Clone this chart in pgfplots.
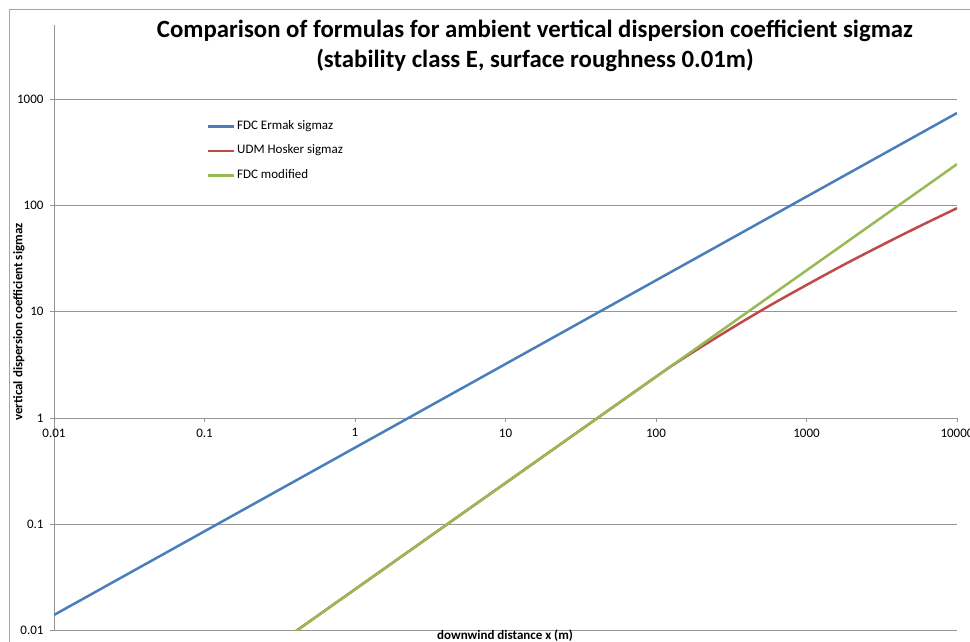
\documentclass[border=0pt]{standalone}
\usepackage{fontspec}
\setmainfont{Carlito}
\usepackage{pgfplots}
\pgfplotsset{compat=1.18}
\definecolor{xlblue}{RGB}{74,126,187}
\definecolor{xlred}{RGB}{190,75,72}
\definecolor{xlgreen}{RGB}{152,185,84}
\definecolor{gridc}{RGB}{150,150,150}
\definecolor{framec}{RGB}{165,165,165}
\begin{document}
\begin{tikzpicture}
\useasboundingbox (0pt,0pt) rectangle (970pt,641pt);
\clip (0pt,0pt) rectangle (970pt,641pt);
\draw[framec, line width=0.75pt] (9pt,-20pt) rectangle (1000pt,632pt);
\begin{axis}[
  at={(54pt,10.3pt)}, anchor=south west,
  scale only axis, width=903pt, height=605.7pt,
  xmode=log, ymode=log,
  xmin=0.01, xmax=10000, ymin=0.01, ymax=4990,
  axis x line=middle, axis y line=left,
  axis line style={-, gridc, line width=0.75pt},
  hide obscured x ticks=false, hide obscured y ticks=false,
  xtick={0.01,0.1,1,10,100,1000,10000},
  xticklabels={0.01,0.1,1,10,100,1000,10000},
  ytick={0.01,0.1,1,10,100,1000},
  yticklabels={0.01,0.1,1,10,100,1000},
  xminorticks=false, yminorticks=false,
  tick style={gridc, line width=0.75pt},
  major tick length=4pt, tick align=outside,
  ymajorgrids, major grid style={gridc, line width=0.75pt},
  tick label style={font=\fontsize{13}{15}\selectfont},
  xticklabel style={yshift=-3pt},
  yticklabel style={xshift=-3pt},
  legend style={at={(0.1694,0.792)}, anchor=west, draw=none, fill=none,
    font=\fontsize{13}{15}\selectfont, inner sep=0pt, row sep=9.5pt,
    nodes={inner sep=1.5pt, text height=9pt, text depth=3pt}},
  legend cell align=left,
  legend image code/.code={\draw[#1] (0pt,0pt) -- (26pt,0pt);},
]
\addplot[xlblue, line width=2.5pt] coordinates {
 (0.01,0.01406) (0.1,0.0861) (1,0.527) (10,3.228) (100,19.77) (1000,121.1) (10000,741.3)};
\addlegendentry{FDC Ermak sigmaz}
\addplot[xlred, line width=2.5pt, smooth] coordinates {
 (0.3,0.00735) (1,0.0245) (10,0.245) (100,2.449) (133.4,3.236) (177.8,4.21) (316.2,6.98)
 (562.3,11.32) (1000,17.86) (1778,27.80) (3162,42.36) (5623,63.68) (10000,94.4)};
\addlegendentry{UDM Hosker sigmaz}
\addplot[xlgreen, line width=2.5pt] coordinates {
 (0.3,0.00735) (1,0.0245) (10,0.245) (100,2.45) (1000,24.5) (10000,245)};
\addlegendentry{FDC modified}
\end{axis}
\node[align=center, font=\fontsize{24.8}{30}\selectfont\bfseries] at (535pt,595pt)
  {Comparison of formulas for ambient vertical dispersion coefficient sigmaz\\(stability class E, surface roughness 0.01m)};
\node[rotate=90, font=\fontsize{13}{15}\selectfont\bfseries] at (19pt,319pt) {vertical dispersion coefficient sigmaz};
\node[anchor=base, font=\fontsize{13}{15}\selectfont\bfseries] at (505pt,1.5pt) {downwind distance x (m)};
\end{tikzpicture}
\end{document}
